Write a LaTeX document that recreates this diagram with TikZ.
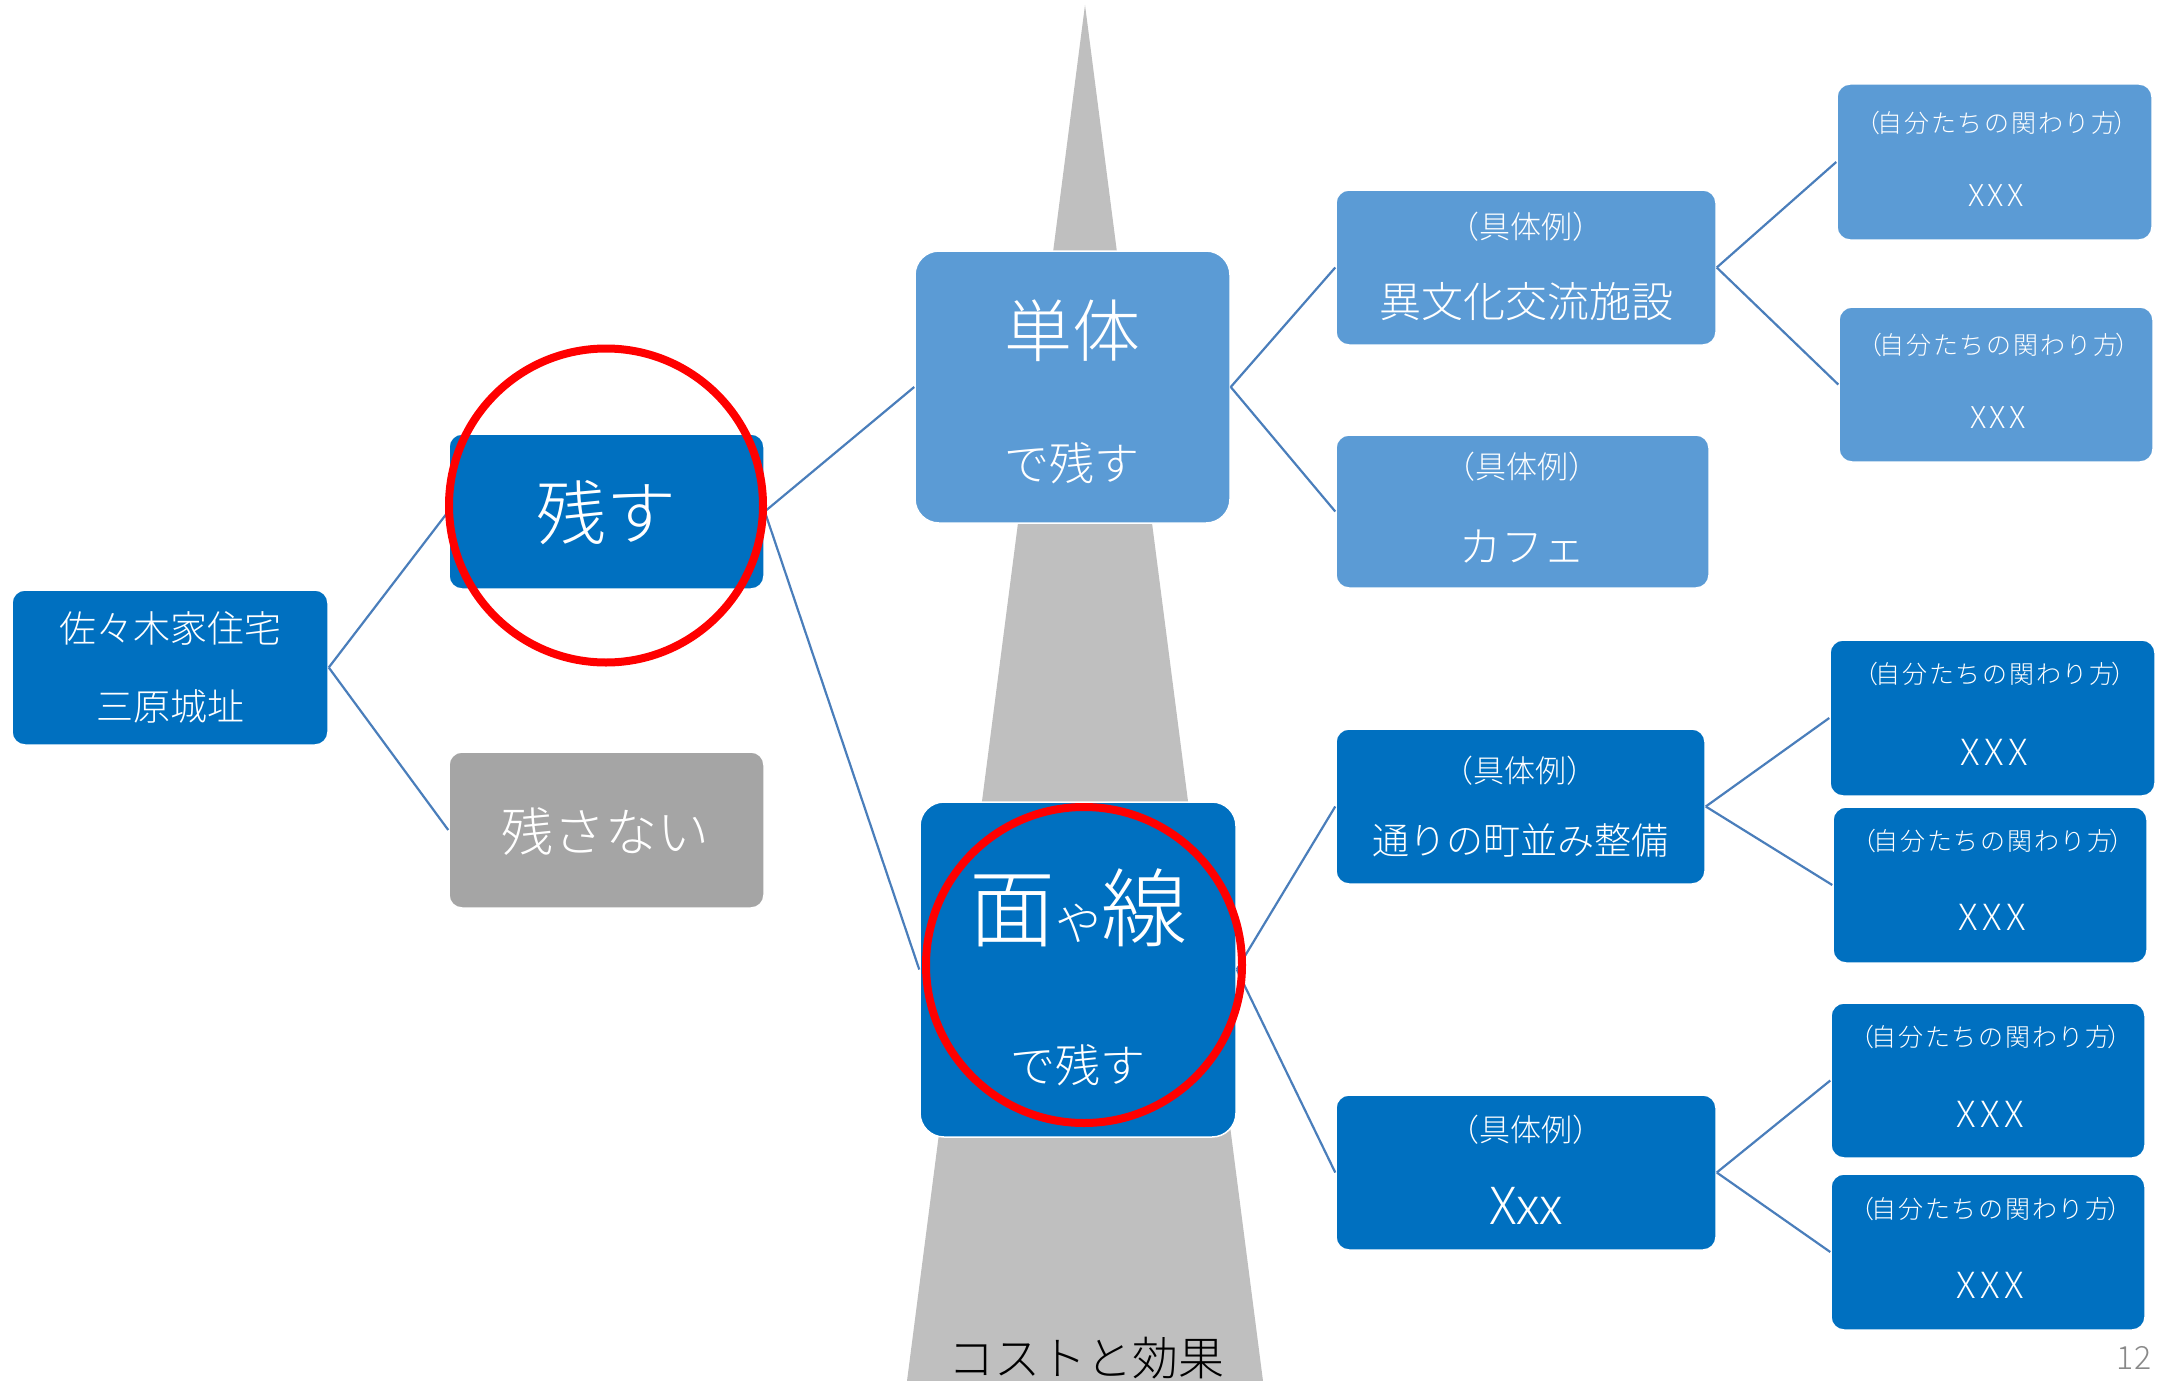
\documentclass[tikz,border=0pt]{standalone}
\usepackage{fontspec}
\setmainfont{Noto Sans CJK JP Light}
\newfontfamily\spcx{Noto Sans CJK JP Light}[LetterSpace=12]
\newfontfamily\spcj{Noto Sans CJK JP Light}[LetterSpace=7]
\newcommand\fsz[1]{\fontsize{#1}{#1}\selectfont}
\newcommand\jibunex{（\hspace{-3pt}自分たちの関わり方\hspace{-3pt}）}
\definecolor{dblue}{HTML}{0070C0}
\definecolor{lblue}{HTML}{5B9BD5}
\definecolor{gbox}{HTML}{A5A5A5}
\definecolor{trig}{HTML}{BFBFBF}
\definecolor{lineblue}{RGB}{74,126,187}
\definecolor{pgnum}{HTML}{898989}
\tikzset{
  basebox/.style={rectangle, rounded corners=13pt, draw=white, line width=1.5pt, inner sep=0pt},
  darkbox/.style={basebox, fill=dblue},
  lightbox/.style={basebox, fill=lblue},
  graybox/.style={basebox, fill=gbox},
  bigbox/.style={rounded corners=24pt},
  conn/.style={draw=lineblue, line width=2.2pt},
  ring/.style={circle, draw=red, line width=8pt, inner sep=0pt},
  wtxt/.style={text=white, inner sep=0pt, anchor=base},
  gutai/.style={wtxt, font=\fsz{31}},
  jibun/.style={wtxt, font=\spcj\fsz{25}},
  xsmall/.style={wtxt, font=\spcx\fsz{30}},
  xbig/.style={wtxt, font=\spcx\fsz{36}},
}
\begin{document}
\begin{tikzpicture}[x=1pt, y=-1pt]
\useasboundingbox (0,0) rectangle (2161,1381);
% background triangle
\fill[trig] (1085,5) -- (907,1381) -- (1263,1381) -- cycle;

% boxes
\node[darkbox, minimum width=316pt, minimum height=155pt] (root) at (170,667.5) {};
\node[darkbox, minimum width=315pt, minimum height=155pt] (nokosu) at (606.5,511.5) {};
\node[graybox, minimum width=315pt, minimum height=156pt] (nokosanai) at (606.5,830) {};
\node[lightbox, bigbox, minimum width=315pt, minimum height=272pt] (tantai) at (1072.5,387) {};
\node[darkbox, bigbox, minimum width=316pt, minimum height=335pt] (men) at (1078,969.5) {};
\node[lightbox, minimum width=380pt, minimum height=155pt] (ibunka) at (1526,267.5) {};
\node[lightbox, minimum width=373pt, minimum height=153pt] (cafe) at (1522.5,511.5) {};
\node[darkbox, minimum width=369pt, minimum height=155pt] (toori) at (1520.5,806.5) {};
\node[darkbox, minimum width=380pt, minimum height=155pt] (xxxb) at (1526,1172.5) {};
\node[lightbox, minimum width=315pt, minimum height=156pt] (ka) at (1994.5,162) {};
\node[lightbox, minimum width=314pt, minimum height=155pt] (kb) at (1996,384.5) {};
\node[darkbox, minimum width=325pt, minimum height=156pt] (kc) at (1992.5,718) {};
\node[darkbox, minimum width=314pt, minimum height=156pt] (kd) at (1990,885) {};
\node[darkbox, minimum width=314pt, minimum height=155pt] (ke) at (1988,1080.5) {};
\node[darkbox, minimum width=314pt, minimum height=156pt] (kf) at (1988,1252) {};

% connectors
\draw[conn] (root.east) -- (nokosu.west);
\draw[conn] (root.east) -- (nokosanai.west);
\draw[conn] (nokosu.east) -- (tantai.west);
\draw[conn] (nokosu.east) -- (men.west);
\draw[conn] (tantai.east) -- (ibunka.west);
\draw[conn] (tantai.east) -- (cafe.west);
\draw[conn] (men.east) -- (toori.west);
\draw[conn] (men.east) -- (xxxb.west);
\draw[conn] (ibunka.east) -- (ka.west);
\draw[conn] (ibunka.east) -- (kb.west);
\draw[conn] (toori.east) -- (kc.west);
\draw[conn] (toori.east) -- (kd.west);
\draw[conn] (xxxb.east) -- (ke.west);
\draw[conn] (xxxb.east) -- (kf.west);

% texts
\node[wtxt, font=\fsz{37}] (t-root1) at (170,642) {佐々木家住宅};
\node[wtxt, font=\fsz{37}] (t-root2) at (170,720) {三原城址};
\node[wtxt, font=\fsz{70}] (t-nokosu) at (606,539) {残す};
\node[wtxt, font=\fsz{52}] (t-nokosanai) at (605,851) {残さない};
\node[wtxt, font=\fsz{68}] (t-tantai1) at (1072,356) {単体};
\node[wtxt, font=\fsz{45}] (t-tantai2) at (1072,480) {で残す};
\node[wtxt] (t-men1) at (1078,940) {{\fsz{86}面}{\fsz{46}や}{\fsz{86}線}};
\node[wtxt, font=\fsz{45}] (t-men2) at (1078,1082) {で残す};

\node[gutai] (t-ib1) at (1526,238) {（具体例）};
\node[wtxt, font=\fsz{42}] (t-ib2) at (1526,317) {異文化交流施設};
\node[gutai] (t-cf1) at (1522,478) {（具体例）};
\node[wtxt, font=\fsz{42}] (t-cf2) at (1522,562) {カフェ};
\node[gutai] (t-to1) at (1520,782) {（具体例）};
\node[wtxt, font=\fsz{37}] (t-to2) at (1520,854) {通りの町並み整備};
\node[gutai] (t-xx1) at (1526,1141) {（具体例）};
\node[wtxt, font=\fsz{51}] (t-xx2) at (1526,1224) {Xxx};

\node[jibun] (t-ka1) at (1997,132) {\jibunex};
\node[xsmall] (t-ka2) at (1996,206) {XXX};
\node[jibun] (t-kb1) at (1999,354) {\jibunex};
\node[xsmall] (t-kb2) at (1998,428) {XXX};
\node[jibun] (t-kc1) at (1995,683) {\jibunex};
\node[xbig] (t-kc2) at (1994,765) {XXX};
\node[jibun] (t-kd1) at (1993,850) {\jibunex};
\node[xbig] (t-kd2) at (1992,930) {XXX};
\node[jibun] (t-ke1) at (1991,1046) {\jibunex};
\node[xbig] (t-ke2) at (1990,1127) {XXX};
\node[jibun] (t-kf1) at (1991,1218) {\jibunex};
\node[xbig] (t-kf2) at (1990,1298) {XXX};

\node[inner sep=0pt, anchor=base, font=\fsz{46}] (cost) at (1086,1375) {コストと効果};
\node[inner sep=0pt, anchor=base, font=\fsz{32}, text=pgnum] (pagenum) at (2134,1369) {12};

% red rings
\node[ring, minimum size=314pt] (ring1) at (606,505.5) {};
\node[ring, minimum size=316pt] (ring2) at (1084,965) {};
\end{tikzpicture}
\end{document}
